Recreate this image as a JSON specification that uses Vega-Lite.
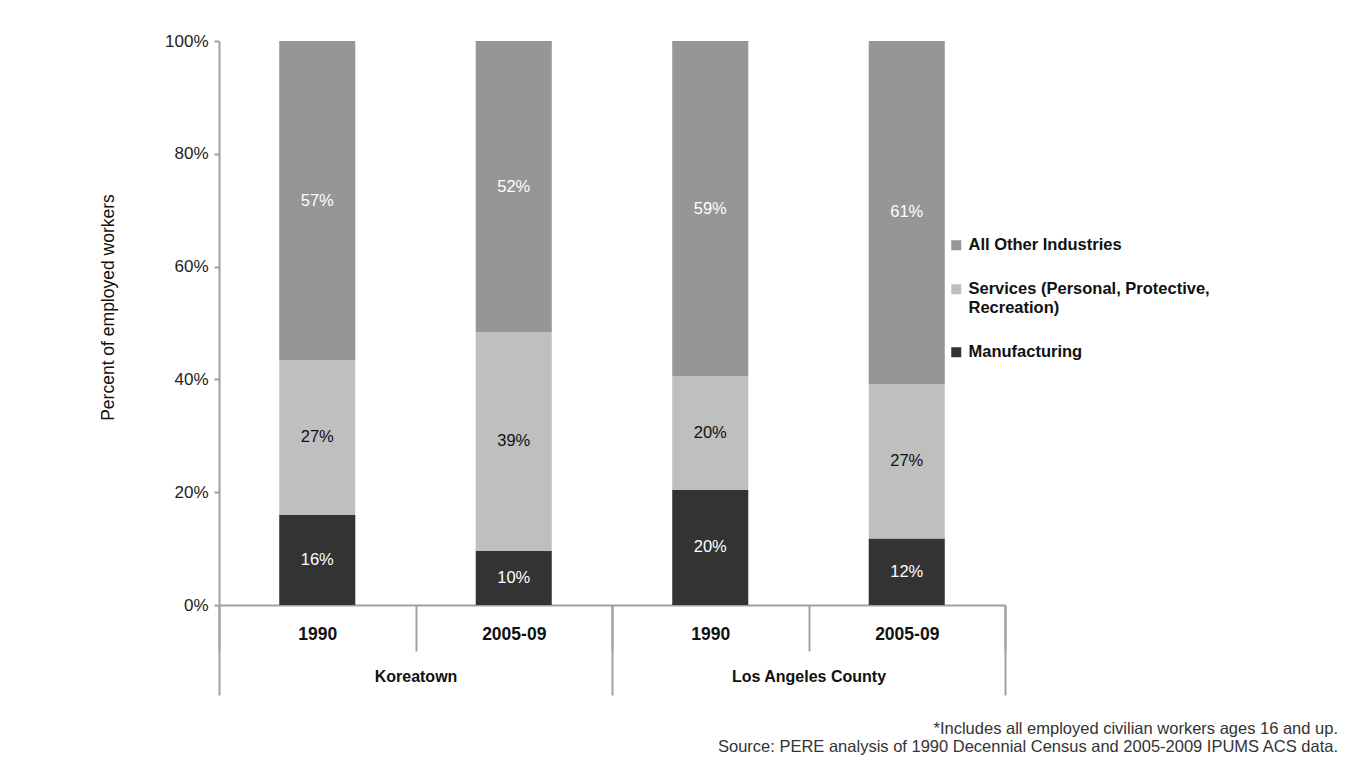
{
  "$schema": "https://vega.github.io/schema/vega-lite/v6.json",
  "width": 786,
  "height": 564,
  "autosize": {"type": "none"},
  "padding": {"left": 219, "top": 41, "right": 341, "bottom": 160},
  "background": "white",
  "config": {"font": "Liberation Sans", "view": {"stroke": null}},
  "title": {
    "text": ["*Includes all employed civilian workers ages 16 and up.", "Source: PERE analysis of 1990 Decennial Census and 2005-2009 IPUMS ACS data."],
    "orient": "bottom", "anchor": "end", "frame": "group", "dx": 333, "offset": 25,
    "fontSize": 16.5, "fontWeight": "normal", "color": "#333", "lineHeight": 18
  },
  "data": {"values": [
    {"region": "Koreatown", "col": "Koreatown|1990", "industry": "Manufacturing", "rank": 1, "share": 0.160},
    {"region": "Koreatown", "col": "Koreatown|1990", "industry": "Services (Personal, Protective, Recreation)", "rank": 2, "share": 0.274},
    {"region": "Koreatown", "col": "Koreatown|1990", "industry": "All Other Industries", "rank": 3, "share": 0.566},
    {"region": "Koreatown", "col": "Koreatown|2005-09", "industry": "Manufacturing", "rank": 1, "share": 0.096},
    {"region": "Koreatown", "col": "Koreatown|2005-09", "industry": "Services (Personal, Protective, Recreation)", "rank": 2, "share": 0.388},
    {"region": "Koreatown", "col": "Koreatown|2005-09", "industry": "All Other Industries", "rank": 3, "share": 0.516},
    {"region": "Los Angeles County", "col": "Los Angeles County|1990", "industry": "Manufacturing", "rank": 1, "share": 0.204},
    {"region": "Los Angeles County", "col": "Los Angeles County|1990", "industry": "Services (Personal, Protective, Recreation)", "rank": 2, "share": 0.202},
    {"region": "Los Angeles County", "col": "Los Angeles County|1990", "industry": "All Other Industries", "rank": 3, "share": 0.594},
    {"region": "Los Angeles County", "col": "Los Angeles County|2005-09", "industry": "Manufacturing", "rank": 1, "share": 0.118},
    {"region": "Los Angeles County", "col": "Los Angeles County|2005-09", "industry": "Services (Personal, Protective, Recreation)", "rank": 2, "share": 0.274},
    {"region": "Los Angeles County", "col": "Los Angeles County|2005-09", "industry": "All Other Industries", "rank": 3, "share": 0.608}
  ]},
  "layer": [
    {
      "encoding": {
        "x": {
          "field": "col", "type": "nominal", "sort": null,
          "scale": {"paddingInner": 0, "paddingOuter": 0},
          "axis": {
            "title": null, "orient": "bottom",
            "labelExpr": "split(datum.value, '|')[1]",
            "tickBand": "extent", "tickSize": 46, "tickColor": "#a0a0a0", "tickWidth": 2,
            "domainColor": "#a0a0a0", "domainWidth": 2,
            "labelFontSize": 17.5, "labelFontWeight": "bold", "labelColor": "#111",
            "labelPadding": -26, "labelAngle": 0
          }
        },
        "y": {
          "field": "share", "type": "quantitative", "stack": "zero",
          "scale": {"domain": [0, 1]},
          "axis": {
            "values": [0, 0.2, 0.4, 0.6, 0.8, 1], "format": ".0%", "grid": false,
            "domainColor": "#a0a0a0", "domainWidth": 2, "tickColor": "#a0a0a0", "tickWidth": 2, "tickSize": 5,
            "labelFontSize": 17, "labelColor": "#222", "labelPadding": 6,
            "title": "Percent of employed workers", "titleFontSize": 17.5, "titleFontWeight": "normal", "titleColor": "#111",
            "titleX": -111, "titleY": 266, "titleAlign": "center", "titleBaseline": "middle"
          }
        },
        "order": {"field": "rank", "type": "quantitative"}
      },
      "layer": [
        {
          "mark": {"type": "bar", "width": {"band": 0.387}},
          "encoding": {
            "color": {
              "field": "industry", "type": "nominal",
              "scale": {
                "domain": ["All Other Industries", "Services (Personal, Protective, Recreation)", "Manufacturing"],
                "range": ["#969696", "#bfbfbf", "#333333"]
              },
              "legend": {
                "orient": "none", "legendX": 729, "legendY": 196, "title": null,
                "symbolType": "square", "symbolSize": 100, "symbolStrokeWidth": 0,
                "labelFontSize": 16.5, "labelFontWeight": "bold", "labelColor": "#111",
                "rowPadding": 27, "labelLimit": 300, "labelOffset": 4,
                "labelExpr": "datum.label == 'Services (Personal, Protective, Recreation)' ? ['Services (Personal, Protective,', 'Recreation)'] : datum.label"
              }
            }
          }
        },
        {
          "mark": {"type": "text", "fontSize": 16.5},
          "encoding": {
            "y": {"field": "share", "type": "quantitative", "stack": "zero", "bandPosition": 0.5},
            "detail": {"field": "industry"},
            "text": {"field": "share", "type": "quantitative", "format": ".0%"},
            "color": {"condition": {"test": "datum.industry == 'Services (Personal, Protective, Recreation)'", "value": "#111"}, "value": "white"}
          }
        }
      ]
    },
    {
      "mark": {"type": "point", "opacity": 0},
      "encoding": {
        "x": {
          "field": "region", "type": "nominal",
          "scale": {"paddingInner": 0, "paddingOuter": 0},
          "axis": {
            "title": null, "orient": "bottom",
            "tickBand": "extent", "tickSize": 90, "tickColor": "#a0a0a0", "tickWidth": 2,
            "domain": false,
            "labelFontSize": 16, "labelFontWeight": "bold", "labelColor": "#111",
            "labelPadding": -27, "labelAngle": 0
          }
        }
      }
    }
  ],
  "resolve": {"scale": {"x": "independent"}, "axis": {"x": "independent"}}
}
